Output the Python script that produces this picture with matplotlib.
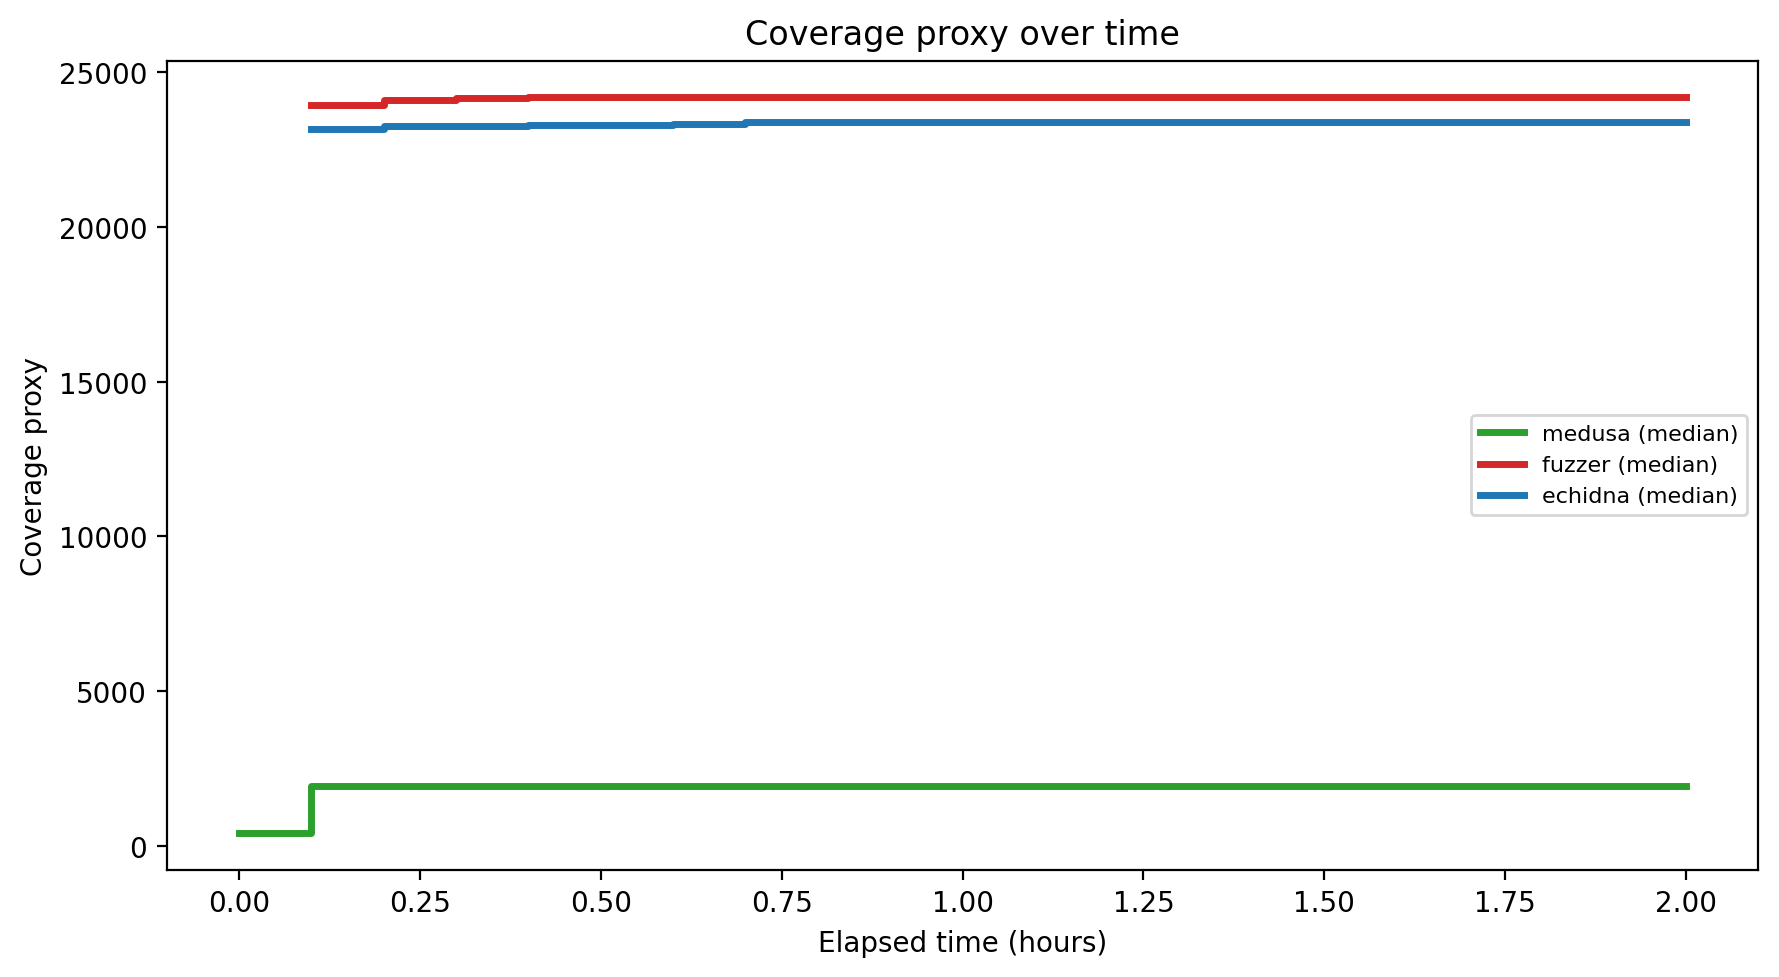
import matplotlib

matplotlib.use("Agg")
import matplotlib.pyplot as plt

# elapsed time in hours, one sample every 0.1 h
medusa_hours = [round(i * 0.1, 1) for i in range(0, 21)]
medusa_cov = [400] + [1920] * 20

other_hours = [round(i * 0.1, 1) for i in range(1, 21)]
fuzzer_cov = [23930, 24117, 24156] + [24185] * 17
echidna_cov = [23180, 23277, 23277, 23310, 23310, 23342] + [23380] * 14

fig = plt.figure(figsize=(1779 / 200, 978 / 200), dpi=200)
ax = fig.add_axes([0.0937, 0.1094, 0.8947, 0.8275])

ax.plot(medusa_hours, medusa_cov, drawstyle="steps-post", color="tab:green",
        linewidth=2.5, label="medusa (median)")
ax.plot(other_hours, fuzzer_cov, drawstyle="steps-post", color="tab:red",
        linewidth=2.5, label="fuzzer (median)")
ax.plot(other_hours, echidna_cov, drawstyle="steps-post", color="tab:blue",
        linewidth=2.5, label="echidna (median)")

ax.set_title("Coverage proxy over time")
ax.set_xlabel("Elapsed time (hours)")
ax.set_ylabel("Coverage proxy")
ax.legend(loc="center right", fontsize=8)

fig.savefig("out.png", dpi=200)
